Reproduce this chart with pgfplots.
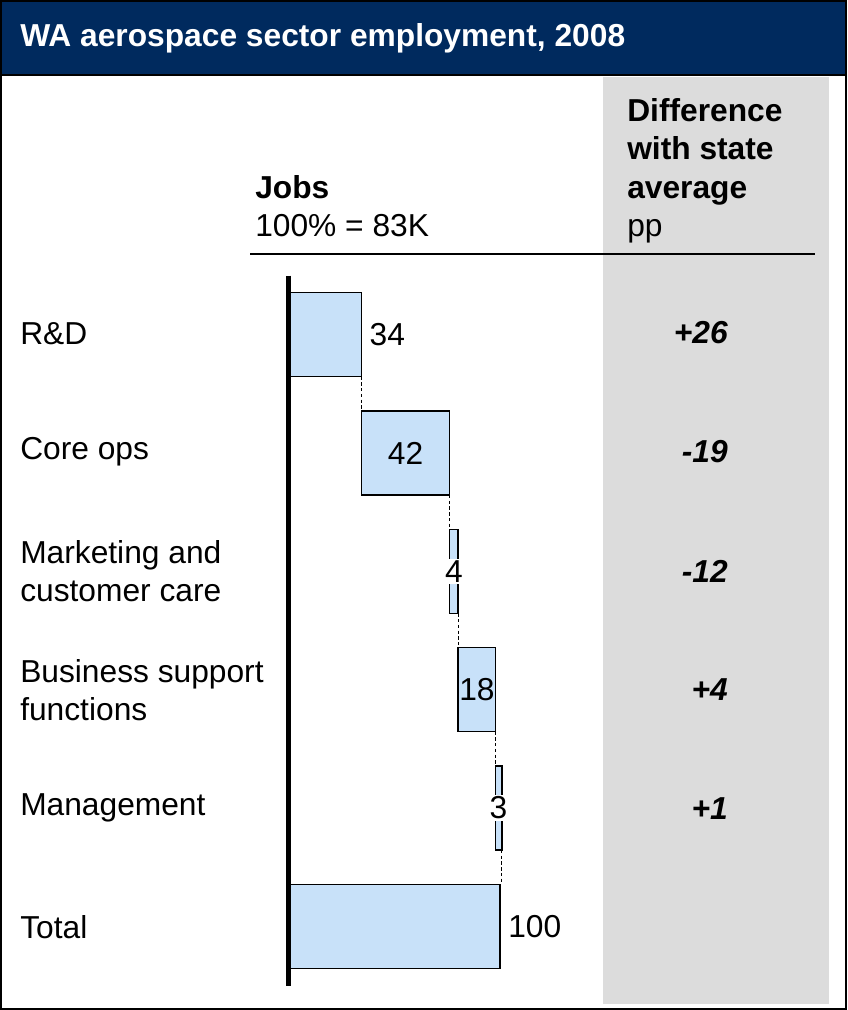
\documentclass[border=0pt]{standalone}
\usepackage{fontspec}
\setmainfont{Liberation Sans}
\usepackage{pgfplots}
\pgfplotsset{compat=1.18}
\definecolor{navy}{HTML}{002A5E}
\definecolor{barblue}{HTML}{C8E1F9}
\definecolor{colgray}{HTML}{DCDCDC}
\newcommand{\bigf}{\fontsize{23.8pt}{29pt}\selectfont}
\begin{document}
\begin{tikzpicture}[x=0.75pt,y=-0.75pt]
\useasboundingbox (0,0) rectangle (847,1010);
\fill[white] (0,0) rectangle (847,1010);
\fill[colgray] (603,77) rectangle (829,1004);
\fill[navy] (0,0) rectangle (847,75);
\draw[line width=1.5pt] (0,75) -- (847,75);
\draw[line width=1.5pt] (1,1) rectangle (846,1009);
\node[anchor=west, text=white, font=\bigf\bfseries, inner sep=0pt] at (20,38) {WA aerospace sector employment, 2008};
% header
\node[anchor=base west, font=\bigf\bfseries, inner sep=0pt] at (255,198) {Jobs};
\node[anchor=base west, font=\bigf, inner sep=0pt] at (255,236) {100\% = 83K};
\node[anchor=base west, font=\bigf\bfseries, inner sep=0pt] at (627,121) {Difference};
\node[anchor=base west, font=\bigf\bfseries, inner sep=0pt] at (627,159) {with state};
\node[anchor=base west, font=\bigf\bfseries, inner sep=0pt] at (627,198) {average};
\node[anchor=base west, font=\bigf, inner sep=0pt] at (627,236) {pp};
\draw[line width=1.5pt] (250,254) -- (815,254);
% categories
\node[anchor=west, font=\bigf, inner sep=0pt] at (20,334) {R\&D};
\node[anchor=west, font=\bigf, inner sep=0pt] at (20,452) {Core ops};
\node[anchor=west, font=\bigf, inner sep=0pt, align=left] at (20,571) {Marketing and\\customer care};
\node[anchor=west, font=\bigf, inner sep=0pt, align=left] at (20,690) {Business support\\functions};
\node[anchor=west, font=\bigf, inner sep=0pt] at (20,808) {Management};
\node[anchor=west, font=\bigf, inner sep=0pt] at (20,927) {Total};
% differences
\node[anchor=east, font=\bigf\bfseries\itshape, inner sep=0pt] at (728,333) {+26};
\node[anchor=east, font=\bigf\bfseries\itshape, inner sep=0pt] at (728,452) {-19};
\node[anchor=east, font=\bigf\bfseries\itshape, inner sep=0pt] at (728,571) {-12};
\node[anchor=east, font=\bigf\bfseries\itshape, inner sep=0pt] at (728,690) {+4};
\node[anchor=east, font=\bigf\bfseries\itshape, inner sep=0pt] at (728,809) {+1};
\coordinate (A) at (288,275.5);
% bars
\begin{axis}[at={(A)}, anchor=north west, scale only axis,
  width=159pt, height=532.5pt, xmin=-1, xmax=100, ymin=-0.5, ymax=5.5,
  y dir=reverse, xbar stacked, bar width=0.71, hide axis, clip=false]
\addplot[draw=none, fill=none] coordinates {(0,0) (34,1) (76,2) (80,3) (98,4) (0,5)};
\addplot[draw=black, fill=barblue, line width=1pt] coordinates {(34,0) (42,1) (4,2) (18,3) (3,4) (100,5)};
\end{axis}
\begin{axis}[at={(A)}, anchor=north west, scale only axis,
  width=159pt, height=532.5pt, xmin=-1, xmax=100, ymin=-0.5, ymax=5.5,
  y dir=reverse, clip=false, axis x line=none, axis y line=left,
  axis line style={-}, every outer y axis line/.append style={-},
  y axis line style={line width=3.75pt}, xtick=\empty, ytick=\empty]
\addplot[dash pattern=on 2.5pt off 1.8pt, line width=0.6pt, forget plot] coordinates {(34,0.355) (34,0.645)};
\addplot[dash pattern=on 2.5pt off 1.8pt, line width=0.6pt, forget plot] coordinates {(76,1.355) (76,1.645)};
\addplot[dash pattern=on 2.5pt off 1.8pt, line width=0.6pt, forget plot] coordinates {(80,2.355) (80,2.645)};
\addplot[dash pattern=on 2.5pt off 1.8pt, line width=0.6pt, forget plot] coordinates {(98,3.355) (98,3.645)};
\addplot[dash pattern=on 2.5pt off 1.8pt, line width=0.6pt, forget plot] coordinates {(100.5,4.355) (100.5,4.645)};
\addplot[draw=none, mark=none, nodes near coords, point meta=explicit symbolic,
  nodes near coords style={anchor=west, font=\bigf, inner sep=0pt, xshift=6pt}]
  coordinates {(34,0) [34] (100,5) [100]};
\addplot[draw=none, mark=none, nodes near coords, point meta=explicit symbolic,
  nodes near coords style={anchor=center, font=\bigf, inner sep=0pt}]
  coordinates {(55,1) [42] (89,3) [18]};
\addplot[draw=none, mark=none, nodes near coords, point meta=explicit symbolic,
  nodes near coords style={anchor=center, font=\bigf, inner sep=1pt, fill=white}]
  coordinates {(78,2) [4] (99.2,4) [3]};
\end{axis}
\end{tikzpicture}
\end{document}
